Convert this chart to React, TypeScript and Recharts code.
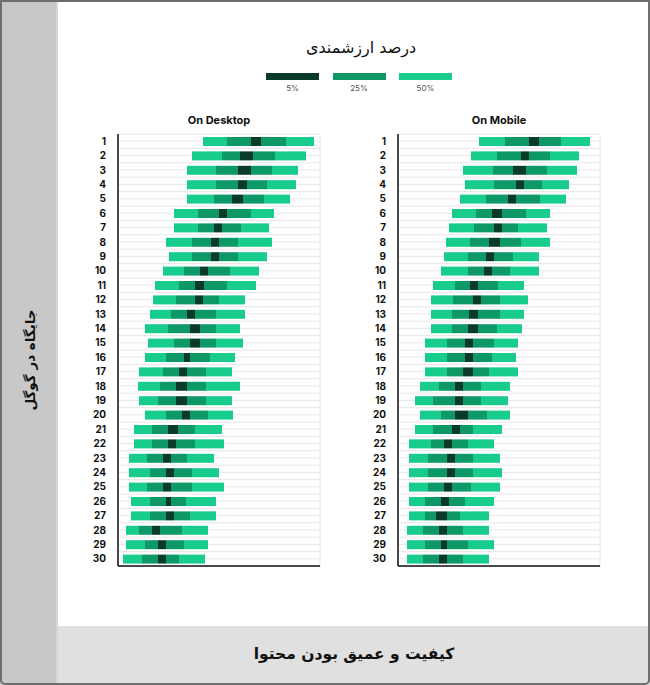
import React from 'react';
import { Bar, BarChart, CartesianGrid, XAxis, YAxis } from 'recharts';

// google rank 1..30
const ranks = Array.from({ length: 30 }, (_, i) => String(i + 1));

// desktop: boundaries of the 50% / 25% / 5% bands (x units ~ px from axis)
const desktopStart = [85, 74, 69, 69, 69, 56, 56, 48, 51, 45, 37, 35, 32, 27, 30, 27, 21, 20, 21, 27, 16, 16, 11, 11, 11, 13, 13, 8, 8, 5];
const desktopMidStart = [109, 104, 98, 98, 96, 80, 80, 74, 74, 66, 61, 58, 53, 50, 56, 48, 45, 42, 40, 48, 34, 34, 29, 32, 29, 32, 32, 21, 27, 24];
const desktopDarkStart = [133, 122, 120, 120, 114, 101, 96, 93, 93, 82, 77, 77, 69, 72, 72, 66, 61, 58, 58, 64, 50, 50, 45, 48, 45, 48, 48, 34, 40, 40];
const desktopDarkEnd = [143, 135, 133, 129, 125, 109, 104, 101, 101, 90, 86, 85, 77, 82, 82, 72, 69, 69, 69, 72, 60, 58, 53, 56, 53, 53, 56, 42, 48, 48];
const desktopMidEnd = [168, 157, 154, 149, 146, 133, 123, 120, 120, 112, 109, 101, 98, 98, 98, 92, 88, 88, 88, 90, 77, 77, 69, 74, 74, 68, 72, 64, 66, 61];
const desktopEnd = [196, 188, 180, 178, 172, 156, 151, 154, 149, 141, 138, 127, 127, 122, 125, 117, 114, 122, 114, 115, 104, 106, 96, 101, 106, 98, 98, 90, 90, 87];

// mobile
const mobileStart = [81, 73, 65, 67, 62, 54, 51, 48, 46, 43, 35, 33, 33, 33, 27, 27, 27, 22, 17, 22, 17, 11, 11, 11, 11, 11, 11, 9, 9, 9];
const mobileMidStart = [107, 99, 95, 96, 88, 78, 76, 72, 70, 70, 57, 55, 54, 54, 49, 49, 49, 41, 35, 43, 35, 33, 30, 30, 30, 27, 27, 25, 27, 25];
const mobileDarkStart = [131, 123, 115, 118, 110, 94, 96, 91, 88, 86, 72, 75, 71, 70, 67, 67, 65, 57, 57, 57, 54, 46, 49, 49, 46, 43, 38, 41, 43, 41];
const mobileDarkEnd = [141, 131, 128, 126, 118, 104, 104, 102, 96, 94, 80, 83, 80, 80, 75, 75, 75, 65, 65, 70, 62, 54, 57, 57, 54, 51, 49, 49, 49, 49];
const mobileMidEnd = [163, 152, 149, 144, 142, 128, 120, 123, 115, 112, 100, 102, 102, 99, 96, 94, 91, 83, 83, 89, 75, 70, 75, 75, 73, 67, 62, 65, 70, 65];
const mobileEnd = [192, 181, 179, 171, 168, 152, 149, 152, 141, 141, 126, 130, 126, 124, 120, 118, 120, 112, 110, 112, 104, 96, 102, 104, 102, 96, 91, 91, 96, 91];

const gridTicks = [19, 71, 125, 178];
const legendLabels = ['5%', '25%', '50%'];

const DARK = '#0a3a2a';
const MID = '#0e9866';
const LIGHT = '#18cc8c';
const legendColors = [DARK, MID, LIGHT];

const persian = '"DejaVu Sans", sans-serif';
const latin = 'Inter, "Open Sans", sans-serif';

const buildRows = (s: number[], ms: number[], ds: number[], de: number[], me: number[], e: number[]) =>
  ranks.map((rank, i) => ({
    rank,
    offset: s[i],
    light1: ms[i] - s[i],
    mid1: ds[i] - ms[i],
    dark: de[i] - ds[i],
    mid2: me[i] - de[i],
    light2: e[i] - me[i],
  }));

const desktopData = buildRows(desktopStart, desktopMidStart, desktopDarkStart, desktopDarkEnd, desktopMidEnd, desktopEnd);
const mobileData = buildRows(mobileStart, mobileMidStart, mobileDarkStart, mobileDarkEnd, mobileMidEnd, mobileEnd);

const rowLines = ({ offset }: any) =>
  Array.from({ length: 61 }, (_, i) => offset.top + (i * offset.height) / 60);

type PanelProps = {
  title: string;
  data: object[];
  left: number;
};

const Panel = (props: PanelProps) => {
  return (
    <div style={{ position: 'absolute', left: props.left, top: 100, width: 270, height: 480 }}>
      <div
        style={{
          position: 'absolute',
          left: 58,
          width: 202,
          top: 13,
          textAlign: 'center',
          fontFamily: latin,
          fontWeight: 700,
          fontSize: 11,
          color: '#111',
        }}
      >
        {props.title}
      </div>
      <BarChart
        width={270}
        height={480}
        data={props.data}
        layout="vertical"
        barSize={9}
        margin={{ top: 34, right: 10, bottom: 10, left: 0 }}
      >
        <CartesianGrid stroke="#e6e6e6" horizontalCoordinatesGenerator={rowLines} />
        <XAxis
          type="number"
          domain={[0, 202]}
          ticks={gridTicks}
          tick={false}
          tickLine={false}
          height={4}
          axisLine={{ stroke: '#111', strokeWidth: 1.5 }}
        />
        <YAxis
          type="category"
          dataKey="rank"
          width={58}
          tickLine={false}
          tickMargin={6}
          interval={0}
          axisLine={{ stroke: '#111', strokeWidth: 1.5 }}
          tick={{ fontSize: 10, fontWeight: 700, fill: '#111', fontFamily: latin }}
        />
        <Bar dataKey="offset" stackId="a" fill="transparent" isAnimationActive={false} />
        <Bar dataKey="light1" stackId="a" fill={LIGHT} isAnimationActive={false} />
        <Bar dataKey="mid1" stackId="a" fill={MID} isAnimationActive={false} />
        <Bar dataKey="dark" stackId="a" fill={DARK} isAnimationActive={false} />
        <Bar dataKey="mid2" stackId="a" fill={MID} isAnimationActive={false} />
        <Bar dataKey="light2" stackId="a" fill={LIGHT} isAnimationActive={false} />
      </BarChart>
    </div>
  );
};

export default function App() {
  return (
    <div style={{ position: 'absolute', left: 0, top: 0, width: 650, height: 685, background: '#fff', overflow: 'hidden' }}>
      {/* side band */}
      <div
        style={{
          position: 'absolute',
          left: 0,
          top: 0,
          width: 56,
          height: 685,
          background: '#c8c8c8',
          borderRight: '2px solid #d7d7d7',
        }}
      />
      <div
        style={{
          position: 'absolute',
          left: 30,
          top: 360,
          transform: 'translate(-50%, -50%) rotate(-90deg)',
          whiteSpace: 'nowrap',
          fontFamily: persian,
          fontWeight: 700,
          fontSize: 13.5,
          color: '#111',
          direction: 'rtl',
        }}
      >
        جایگاه در گوگل
      </div>
      {/* bottom band */}
      <div
        style={{
          position: 'absolute',
          left: 58,
          top: 626,
          width: 592,
          height: 59,
          background: '#e0e0e0',
        }}
      />
      <div
        style={{
          position: 'absolute',
          left: 58,
          width: 592,
          top: 645,
          textAlign: 'center',
          fontFamily: persian,
          fontWeight: 700,
          fontSize: 15.5,
          color: '#111',
          direction: 'rtl',
        }}
      >
        کیفیت و عمیق بودن محتوا
      </div>

      {/* legend */}
      <div
        style={{
          position: 'absolute',
          left: 261,
          width: 200,
          top: 38,
          textAlign: 'center',
          fontFamily: persian,
          fontSize: 16,
          color: '#111',
          direction: 'rtl',
        }}
      >
        درصد ارزشمندی
      </div>
      {legendLabels.map((label, i) => (
        <div key={label} style={{ position: 'absolute', left: 266 + i * 66.5, top: 73, width: 53 }}>
          <div style={{ height: 7, background: legendColors[i] }} />
          <div
            style={{
              marginTop: 3,
              textAlign: 'center',
              fontFamily: latin,
              fontSize: 8,
              color: '#555',
            }}
          >
            {label}
          </div>
        </div>
      ))}

      <Panel title="On Desktop" data={desktopData} left={60} />
      <Panel title="On Mobile" data={mobileData} left={340} />

      {/* frame */}
      <div
        style={{
          position: 'absolute',
          left: 0,
          top: 0,
          width: 650,
          height: 685,
          boxSizing: 'border-box',
          border: '2px solid #6e6e6e',
          borderRadius: '0 0 5px 5px',
          pointerEvents: 'none',
        }}
      />
    </div>
  );
}
